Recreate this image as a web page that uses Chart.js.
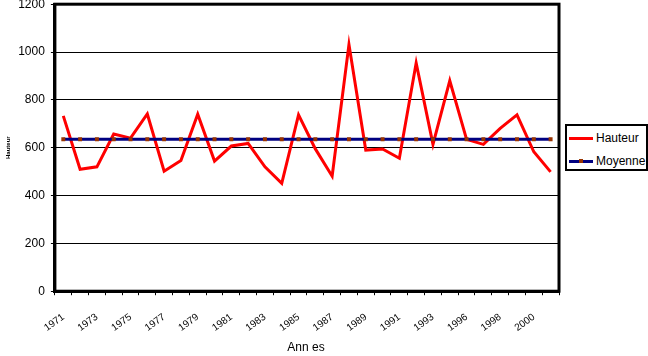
<!DOCTYPE html>
<html>
<head>
<meta charset="utf-8">
<script src="https://cdn.jsdelivr.net/npm/chart.js@4/dist/chart.umd.min.js"></script>
<style>
    body { margin: 0; background: #fff; font-family: "Liberation Sans", Arial, sans-serif; }
    #wrap { position: relative; width: 648px; height: 356px; overflow: hidden; }
    #chart { position: absolute; left: 0; top: -9px; }
    #legend {
        position: absolute; left: 565px; top: 124px; width: 79px; height: 43px;
        border: 2px solid #000; background: #fff; font-size: 12px; color: #000;
    }
    .item { position: absolute; left: 2px; height: 14px; line-height: 14px; }
    .swatch { position: absolute; left: 0; top: 6px; width: 24px; height: 3px; }
    .dot { position: absolute; left: 10px; top: -1px; width: 4px; height: 4px; background: #993300; }
    .label { position: absolute; left: 27px; top: 0; white-space: nowrap; }
    #xtitle { position: absolute; left: 256px; width: 100px; top: 340px; text-align: center; font-size: 12px; color: #000; }
</style>
</head>
<body>
<div id="wrap">
    <canvas id="chart" width="648" height="365"></canvas>
    <div id="xtitle">Ann es</div>
    <div id="legend">
        <div class="item" style="top:5px">
            <div class="swatch" style="background:#ff0000"></div>
            <span class="label">Hauteur</span>
        </div>
        <div class="item" style="top:28px">
            <div class="swatch" style="background:#000080"><div class="dot"></div></div>
            <span class="label">Moyenne</span>
        </div>
    </div>
</div>
<script>
// ---------------- DATA ----------------
const years = [
    "1971", "1972", "1973", "1974", "1975", "1976", "1977", "1978", "1979", "1980",
    "1981", "1982", "1983", "1984", "1985", "1986", "1987", "1988", "1989", "1990",
    "1991", "1992", "1993", "1995", "1996", "1997", "1998", "1999", "2000", "2001"
];

const hauteur = [
    733, 510, 520, 657, 640, 741, 502, 546, 740, 544,
    607, 618, 520, 451, 737, 595, 481, 1031, 590, 595,
    556, 954, 614, 880, 635, 614, 681, 737, 583, 499
];

const moyenne = [
    635, 635, 635, 635, 635, 635, 635, 635, 635, 635,
    635, 635, 635, 635, 635, 635, 635, 635, 635, 635,
    635, 635, 635, 635, 635, 635, 635, 635, 635, 635
];

const yTicks = [0, 200, 400, 600, 800, 1000, 1200];

// ---------------- FRAME PLUGIN ----------------
const frame = {
    id: "frame",
    afterDatasetsDraw(chart) {
        const { ctx, chartArea: a } = chart;
        ctx.save();
        ctx.strokeStyle = "#000";
        ctx.lineWidth = 3;
        ctx.strokeRect(a.left, a.top, a.right - a.left, a.bottom - a.top);
        ctx.restore();
    }
};

// ---------------- CHART ----------------
new Chart(document.getElementById("chart"), {
    type: "line",
    data: {
        labels: years,
        datasets: [{
            label: "Hauteur",
            data: hauteur,
            borderColor: "#ff0000",
            borderWidth: 3,
            pointRadius: 0,
            tension: 0,
            order: 1
        }, {
            label: "Moyenne",
            data: moyenne,
            borderColor: "#000080",
            borderWidth: 3,
            pointStyle: "rect",
            pointRadius: 2.8,
            pointBorderWidth: 0,
            pointBackgroundColor: "#993300",
            tension: 0,
            order: 0
        }]
    },
    options: {
        responsive: false,
        animation: false,
        layout: { padding: { left: 1, right: 89, top: 0, bottom: 6 } },
        plugins: {
            legend: { display: false },
            tooltip: { enabled: false }
        },
        scales: {
            x: {
                offset: true,
                grid: {
                    offset: true,
                    drawOnChartArea: false,
                    color: "#000",
                    tickLength: 4
                },
                border: { color: "#000", width: 3 },
                ticks: {
                    autoSkip: false,
                    minRotation: 36,
                    maxRotation: 36,
                    padding: 16,
                    color: "#000",
                    font: { family: "Liberation Sans", size: 10 },
                    callback: (v, i) => i % 2 === 0 ? years[i] : ""
                }
            },
            y: {
                min: yTicks[0],
                max: yTicks[yTicks.length - 1],
                afterBuildTicks: scale => { scale.ticks = yTicks.map(v => ({ value: v })); },
                grid: { color: "#000", lineWidth: 1, tickLength: 4 },
                border: { color: "#000", width: 3 },
                ticks: {
                    padding: 6,
                    color: "#000",
                    font: { family: "Liberation Sans", size: 12 },
                    callback: v => String(v)
                },
                title: {
                    display: true,
                    text: "Hauteur",
                    color: "#000",
                    font: { family: "Liberation Sans", size: 6, weight: "bold" },
                    padding: { top: 4, bottom: 0 }
                }
            }
        }
    },
    plugins: [frame]
});
</script>
</body>
</html>
